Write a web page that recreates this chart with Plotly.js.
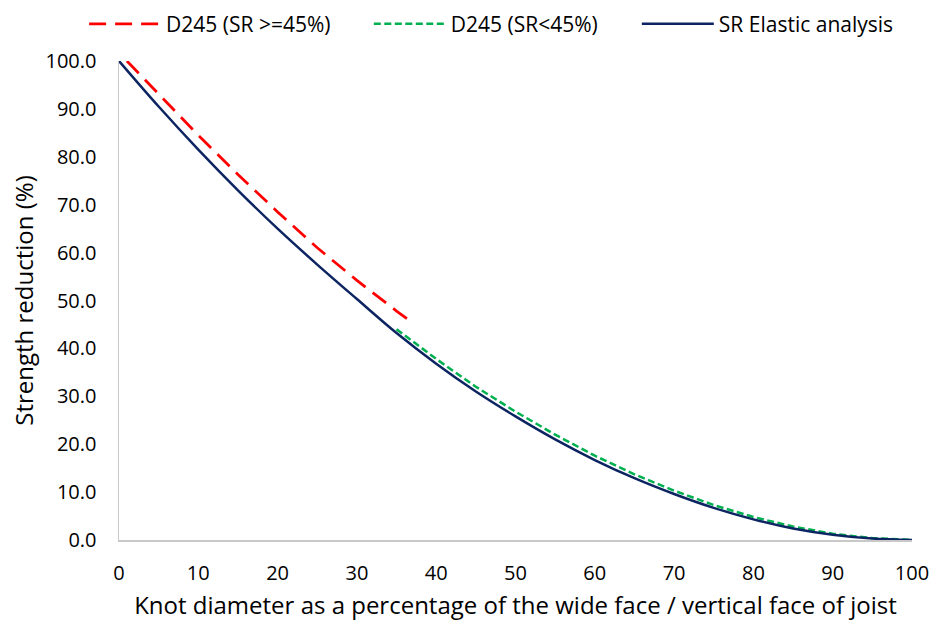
<!DOCTYPE html>
<html>
<head>
<meta charset="utf-8">
<script src="https://cdn.plot.ly/plotly-3.0.1.min.js"></script>
<style>html,body{margin:0;padding:0;background:#fff}</style>
</head>
<body>
<div id="chart" style="width:934px;height:621px"></div>
<script>
const redName = "D245 (SR >=45%)";
const redX = [1, 5, 10, 15, 20, 25, 30, 35, 37];
const redY = [100, 93.2, 84.5, 76.3, 68.5, 61.0, 54.2, 47.8, 45.4];

const greenName = "D245 (SR<45%)";
const greenX = [35, 40, 45, 50, 55, 60, 65, 70, 75, 80, 85, 90, 95, 100];
const greenY = [44.0, 37.8, 32.0, 26.8, 22.0, 17.6, 13.7, 10.3, 7.3, 4.8, 2.8, 1.3, 0.4, 0];

const navyName = "SR Elastic analysis";
const navyX = [0, 5, 10, 15, 20, 25, 30, 35, 40, 45, 50, 55, 60, 65, 70, 75, 80, 85, 90, 95, 100];
const navyY = [100, 90.5, 81.5, 73.0, 65.0, 57.5, 50.3, 43.2, 36.8, 31.0, 25.8, 21.0, 16.7, 12.9, 9.6, 6.7, 4.3, 2.4, 1.1, 0.3, 0];

const xTicks = [0, 10, 20, 30, 40, 50, 60, 70, 80, 90, 100];
const yTicks = [0, 10, 20, 30, 40, 50, 60, 70, 80, 90, 100];

const FONT = '"Open Sans", "Noto Sans", Arial, sans-serif';

const traces = [
  {x: redX, y: redY, name: redName, mode: 'lines', legend: 'legend', line: {color: '#FF0000', width: 2.75, dash: '17px,9px'}},
  {x: greenX, y: greenY, name: greenName, mode: 'lines', legend: 'legend2', line: {color: '#00B050', width: 2.5, dash: '7px,3.5px'}},
  {x: navyX, y: navyY, name: navyName, mode: 'lines', legend: 'legend3', line: {color: '#0C2461', width: 2.5, shape: 'spline'}}
];

const legBase = {orientation: 'h', xanchor: 'left', y: 1.077, yanchor: 'middle',
  font: {family: FONT, size: 21, color: '#000'}, itemwidth: 72, bgcolor: 'rgba(0,0,0,0)'};

const layout = {
  width: 934, height: 621,
  margin: {l: 119, r: 22, t: 61, b: 81, autoexpand: false},
  paper_bgcolor: '#fff', plot_bgcolor: '#fff',
  font: {family: FONT, size: 20, color: '#000'},
  showlegend: true,
  legend: Object.assign({}, legBase, {x: -0.044}),
  legend2: Object.assign({}, legBase, {x: 0.315}),
  legend3: Object.assign({}, legBase, {x: 0.653}),
  xaxis: {range: [0, 100], tickvals: xTicks, ticktext: xTicks.map(String),
    showgrid: false, zeroline: false, showline: true, linecolor: '#C8C8C8', linewidth: 1.5,
    ticks: '', ticklabelstandoff: 14, tickfont: {family: FONT, size: 20},
    title: {text: 'Knot diameter as a percentage of the wide face / vertical face of joist', font: {family: FONT, size: 24}, standoff: 15}},
  yaxis: {range: [0, 100], tickvals: yTicks, ticktext: yTicks.map(v => v.toFixed(1)),
    showgrid: false, zeroline: false, showline: true, linecolor: '#C8C8C8', linewidth: 1.5,
    ticks: '', ticklabelstandoff: 17, tickfont: {family: FONT, size: 20},
    title: {text: 'Strength reduction (%)', font: {family: FONT, size: 24}, standoff: 5}}
};

Plotly.newPlot('chart', traces, layout, {displayModeBar: false, staticPlot: true});
</script>
</body>
</html>
